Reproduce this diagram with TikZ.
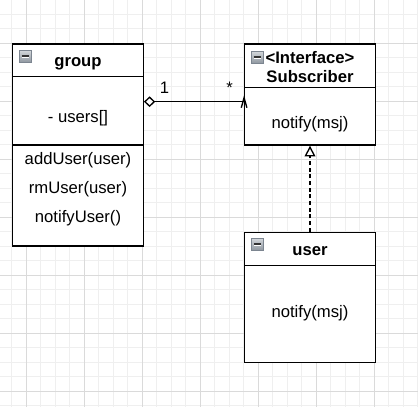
\documentclass[tikz,border=0pt]{standalone}
\usepackage{fontspec}
\setmainfont{Liberation Sans}
\usetikzlibrary{arrows.meta}
\definecolor{gridminor}{HTML}{EFEFEF}
\definecolor{gridmajor}{HTML}{DADADA}
\definecolor{iconedge}{HTML}{7C8590}
\definecolor{icontop}{HTML}{D2D6DA}
\definecolor{iconbot}{HTML}{8E969E}
\begin{document}
\begin{tikzpicture}[x=0.75pt,y=-0.75pt,
  cls/.style={draw, line width=1pt, minimum width=97.875pt, inner sep=0pt},
  sepline/.style={line width=1pt},
  txt/.style={font=\fontsize{12.5}{14.4}\selectfont, inner sep=0pt, anchor=base},
  btxt/.style={txt, font=\fontsize{12.5}{14.4}\selectfont\bfseries},
  minusicon/.pic={
    \shade[top color=icontop, bottom color=iconbot, draw=iconedge, line width=0.6pt] (0,0) rectangle (12,12);
    \draw[line width=1.1pt, black!80] (2.5,5.6) -- (9.5,5.6);
    \draw[line width=0.7pt, white] (2.5,7.4) -- (9.5,7.4);
  }]
\path[use as bounding box] (0,0) rectangle (418,407);
\fill[white] (0,0) rectangle (418,407);
% grid
\foreach \k in {-5,...,23}{\pgfmathsetmacro\xx{84.3+14.5*\k}\draw[gridminor, line width=0.75pt] (\xx,0) -- (\xx,407);}
\foreach \k in {-19,...,9}{\pgfmathsetmacro\yy{275+14.5*\k}\draw[gridminor, line width=0.75pt] (0,\yy) -- (418,\yy);}
\foreach \k in {-4,0,4,...,20}{\pgfmathsetmacro\xx{84.3+14.5*\k}\draw[gridmajor, line width=0.75pt] (\xx,0) -- (\xx,407);}
\foreach \k in {-16,-12,...,8}{\pgfmathsetmacro\yy{275+14.5*\k}\draw[gridmajor, line width=0.75pt] (0,\yy) -- (418,\yy);}

% helper coordinates
\coordinate (gh) at (0,76.7);
\coordinate (ga) at (0,145);
\coordinate (sh) at (0,87.3);
\coordinate (uh) at (0,265.7);
\coordinate (ay) at (0,101.7);

% group class
\node[cls, fill=white, minimum height=151.5pt] (group) at (78,145) {};
\draw[sepline] (group.west |- gh) -- (group.east |- gh);
\draw[sepline] (group.west |- ga) -- (group.east |- ga);
\pic at (19,50.5) {minusicon};
\node[btxt] (gname) at (78,66) {group};
\node[txt] (gattr) at (78,122.5) {- users[]};
\node[txt] (gm1) at (78,164.5) {addUser(user)};
\node[txt] (gm2) at (78,193.5) {rmUser(user)};
\node[txt] (gm3) at (78,222.5) {notifyUser()};

% Subscriber interface
\node[cls, fill=white, minimum height=75.75pt] (sub) at (310,94.5) {};
\draw[sepline] (sub.west |- sh) -- (sub.east |- sh);
\pic at (251,51.5) {minusicon};
\node[btxt] (sname1) at (310,63.5) {<Interface>};
\node[btxt] (sname2) at (310,82.5) {Subscriber};
\node[txt] (smeth) at (310,128.5) {notify(msj)};

% user class
\node[cls, fill=white, minimum height=97.5pt] (user) at (310,297.3) {};
\draw[sepline] (user.west |- uh) -- (user.east |- uh);
\pic at (251.3,238.5) {minusicon};
\node[btxt] (uname) at (310,255.5) {user};
\node[txt] (umeth) at (310,317) {notify(msj)};

% association
\draw[line width=1pt, {Diamond[open,fill=white,length=8.5pt,width=8pt]}-] (group.east |- ay) -- (sub.west |- ay) coordinate (chev);
\draw[line width=1pt] (chev) ++(-2.8,6) -- ++(2.8,-10) -- ++(2.8,10);
\node[txt] (mult1) at (164.5,93.3) {1};
\node[txt] (mult2) at (229.7,93.5) {*};

% realization
\draw[line width=1pt, dash pattern=on 3pt off 2pt, -{Triangle[open,fill=white,length=8pt,width=8pt]}] (user.north) -- (sub.south);
\end{tikzpicture}
\end{document}
